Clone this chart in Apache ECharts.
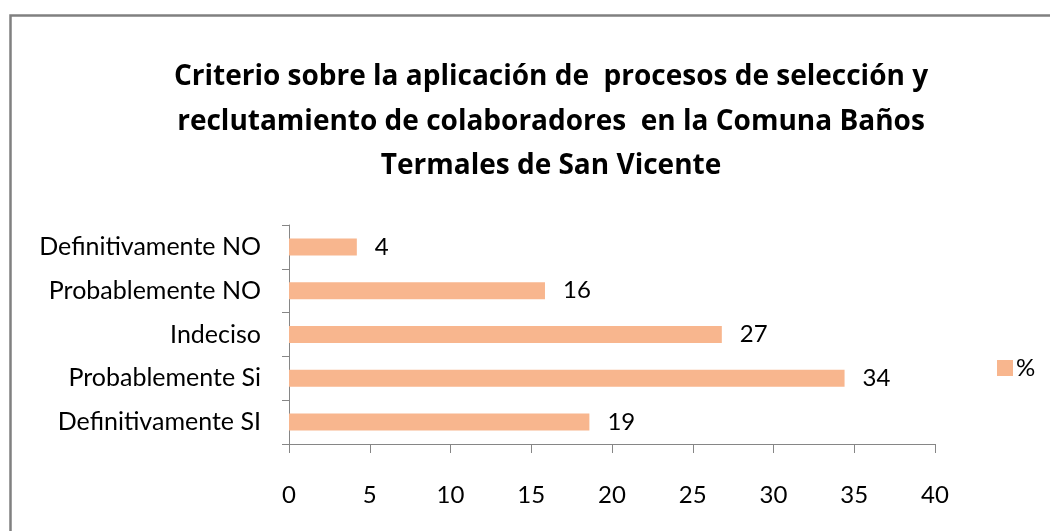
<!DOCTYPE html>
<html>
<head>
<meta charset="utf-8">
<script src="https://cdn.jsdelivr.net/npm/echarts@6/dist/echarts.min.js"></script>
<style>html,body{margin:0;padding:0;background:#fff;}#c{width:1050px;height:531px;}</style>
</head>
<body>
<div id="c"></div>
<script>
var titleText = "Criterio sobre la aplicación de  procesos de selección y\nreclutamiento de colaboradores  en la Comuna Baños\nTermales de San Vicente";
var categories = ["Definitivamente SI", "Probablemente Si", "Indeciso", "Probablemente NO", "Definitivamente NO"];
var seriesName = "%";
var values = [18.6, 34.4, 26.8, 15.85, 4.2];
var xTicks = [0, 5, 10, 15, 20, 25, 30, 35, 40];

var FONT = "Lato";
var chart = echarts.init(document.getElementById('c'), null, {renderer: 'canvas'});
chart.setOption({
  animation: false,
  backgroundColor: '#ffffff',
  graphic: [{
    type: 'rect', left: 8, top: 13, shape: {width: 1100, height: 600},
    style: {fill: 'none', stroke: '#808080', lineWidth: 2.5}, silent: true
  }],
  title: {
    text: titleText, left: 546, textAlign: 'center', top: 50,
    textStyle: {fontFamily: "Open Sans", fontWeight: 'bold', fontSize: 28, color: '#000', lineHeight: 44.5}
  },
  legend: {
    data: [seriesName], left: 992, top: 351, itemWidth: 16, itemHeight: 16, itemGap: 6,
    icon: 'rect',
    textStyle: {fontFamily: FONT, fontSize: 24, color: '#000', padding: [0,0,0,-2]}
  },
  grid: {left: 289, right: 115, top: 225, bottom: 87, containLabel: false},
  xAxis: {
    type: 'value', min: xTicks[0], max: xTicks[xTicks.length-1], interval: 5,
    axisLine: {show: true, lineStyle: {color: '#868686', width: 1}},
    axisTick: {show: true, length: 9, lineStyle: {color: '#868686'}},
    splitLine: {show: false},
    axisLabel: {margin: 39, fontFamily: FONT, fontSize: 24, color: '#000'}
  },
  yAxis: {
    type: 'category', data: categories,
    axisLine: {show: true, lineStyle: {color: '#868686', width: 1}},
    axisTick: {show: true, length: 7, alignWithLabel: false, lineStyle: {color: '#868686'}},
    axisLabel: {margin: 28, fontFamily: FONT, fontSize: 25, color: '#000'}
  },
  series: [{
    name: seriesName, type: 'bar', data: values, barWidth: 17,
    itemStyle: {color: '#F8B68E'},
    label: {show: true, position: 'right', distance: 18, fontFamily: FONT, fontSize: 24, color: '#000',
      formatter: function(p){ return Math.round(p.value); }}
  }]
});
</script>
</body>
</html>
